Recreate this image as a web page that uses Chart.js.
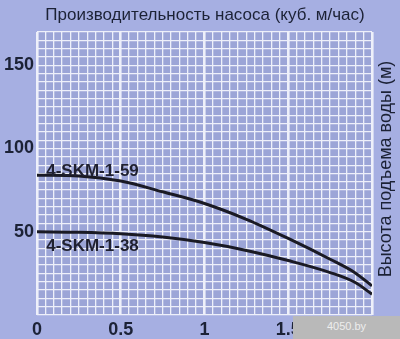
<!DOCTYPE html>
<html>
<head>
<meta charset="utf-8">
<title>4-SKM pump curves</title>
<script src="https://cdn.jsdelivr.net/npm/chart.js@4.4.0/dist/chart.umd.min.js"></script>
<style>
  body { margin: 0; background: #a6afe2; }
  #wrap { position: relative; width: 400px; height: 339px; }
  #mark { position: absolute; left: 293px; top: 316px; width: 107px; height: 23px;
          background: #b9b9b9; color: #ededed; font: 11px "Liberation Sans";
          text-align: center; line-height: 21px; }
</style>
</head>
<body>
<div id="wrap">
  <canvas id="chart" width="400" height="339"></canvas>
  <div id="mark">4050.by</div>
</div>
<script>
// производительность, куб. м/час
const flow   = [0, 0.25, 0.5, 0.75, 1.0, 1.25, 1.5, 1.75, 1.9, 2.0];
// высота подъема, м
const head59 = [84, 83.5, 80.5, 74, 67, 57.5, 46, 33.5, 25.3, 17.5];
const head38 = [50, 49.7, 48.8, 46.8, 43.5, 38.8, 32.7, 25.5, 19.5, 12.5];
const seriesNames = ['4-SKM-1-59', '4-SKM-1-38'];
const xTicks = [0, 0.5, 1, 1.5];
const yTicks = [50, 100, 150];
const xTitle = 'Производительность насоса (куб. м/час)';
const yTitle = 'Высота подъема воды (м)';

const ink = '#1c2236';
const isMajorX = v => Math.abs(v * 2 - Math.round(v * 2)) < 1e-6;

const background = {
  id: 'background',
  beforeDraw(chart) {
    const { ctx, chartArea: a } = chart;
    ctx.save();
    ctx.fillStyle = '#a6afe2';
    ctx.fillRect(0, 0, chart.width, chart.height);
    ctx.fillStyle = '#9ca5d7';
    ctx.fillRect(a.left, a.top, a.right - a.left, a.bottom - a.top);
    ctx.restore();
  }
};

const curveNames = {
  id: 'curveNames',
  afterDatasetsDraw(chart) {
    const { ctx, scales: { x, y } } = chart;
    ctx.save();
    ctx.font = 'bold 17px "Liberation Sans"';
    ctx.fillStyle = '#1f2030';
    ctx.textAlign = 'left';
    ctx.textBaseline = 'middle';
    ctx.fillText(seriesNames[0], x.getPixelForValue(0.055), y.getPixelForValue(86.5));
    ctx.fillText(seriesNames[1], x.getPixelForValue(0.055), y.getPixelForValue(41));
    ctx.restore();
  }
};

// заголовки осей: сверху и справа (снизу вверх)
const titles = {
  id: 'titles',
  afterDraw(chart) {
    const { ctx } = chart;
    ctx.save();
    ctx.fillStyle = ink;
    ctx.textAlign = 'center';
    ctx.textBaseline = 'middle';
    ctx.font = '17px "Liberation Sans"';
    ctx.fillText(xTitle, 205, 15);
    ctx.translate(386, 169);
    ctx.rotate(-Math.PI / 2);
    ctx.font = '18px "Liberation Sans"';
    ctx.fillText(yTitle, 0, 0);
    ctx.restore();
  }
};

const makeLine = (name, values) => ({
  label: name,
  data: flow.map((f, i) => ({ x: f, y: values[i] })),
  borderColor: '#1a1a24',
  borderWidth: 3,
  pointRadius: 0,
  fill: false,
  cubicInterpolationMode: 'monotone'
});

new Chart(document.getElementById('chart').getContext('2d'), {
  type: 'line',
  data: { datasets: [makeLine(seriesNames[0], head59), makeLine(seriesNames[1], head38)] },
  options: {
    responsive: false,
    animation: false,
    devicePixelRatio: 1,
    layout: { padding: { left: 0, right: 28, top: 32, bottom: 0 } },
    plugins: {
      legend: { display: false },
      tooltip: { enabled: false },
      title: { display: false }
    },
    scales: {
      x: {
        type: 'linear',
        min: 0,
        max: 2.0,
        afterFit: s => { s.height = 24; },
        border: { display: false },
        grid: {
          color: '#eef0fa',
          drawTicks: false,
          lineWidth: c => isMajorX(c.tick.value) ? 2.6 : 1.3
        },
        ticks: {
          stepSize: 0.05,
          autoSkip: false,
          maxRotation: 0,
          padding: 4,
          color: ink,
          font: { family: 'Liberation Sans', size: 18, weight: 'bold' },
          callback: v => {
            const r = Math.round(v * 100) / 100;
            return xTicks.includes(r) ? String(r) : '';
          }
        }
      },
      y: {
        min: 0,
        max: 170,
        afterFit: s => { s.width = 37; },
        border: { display: false },
        grid: { color: '#eef0fa', drawTicks: false, lineWidth: 1.3 },
        ticks: {
          stepSize: 5,
          autoSkip: false,
          padding: 3,
          color: ink,
          font: { family: 'Liberation Sans', size: 18, weight: 'bold' },
          callback: v => yTicks.includes(Math.round(v)) ? String(v) : ''
        }
      }
    }
  },
  plugins: [background, curveNames, titles]
});
</script>
</body>
</html>
